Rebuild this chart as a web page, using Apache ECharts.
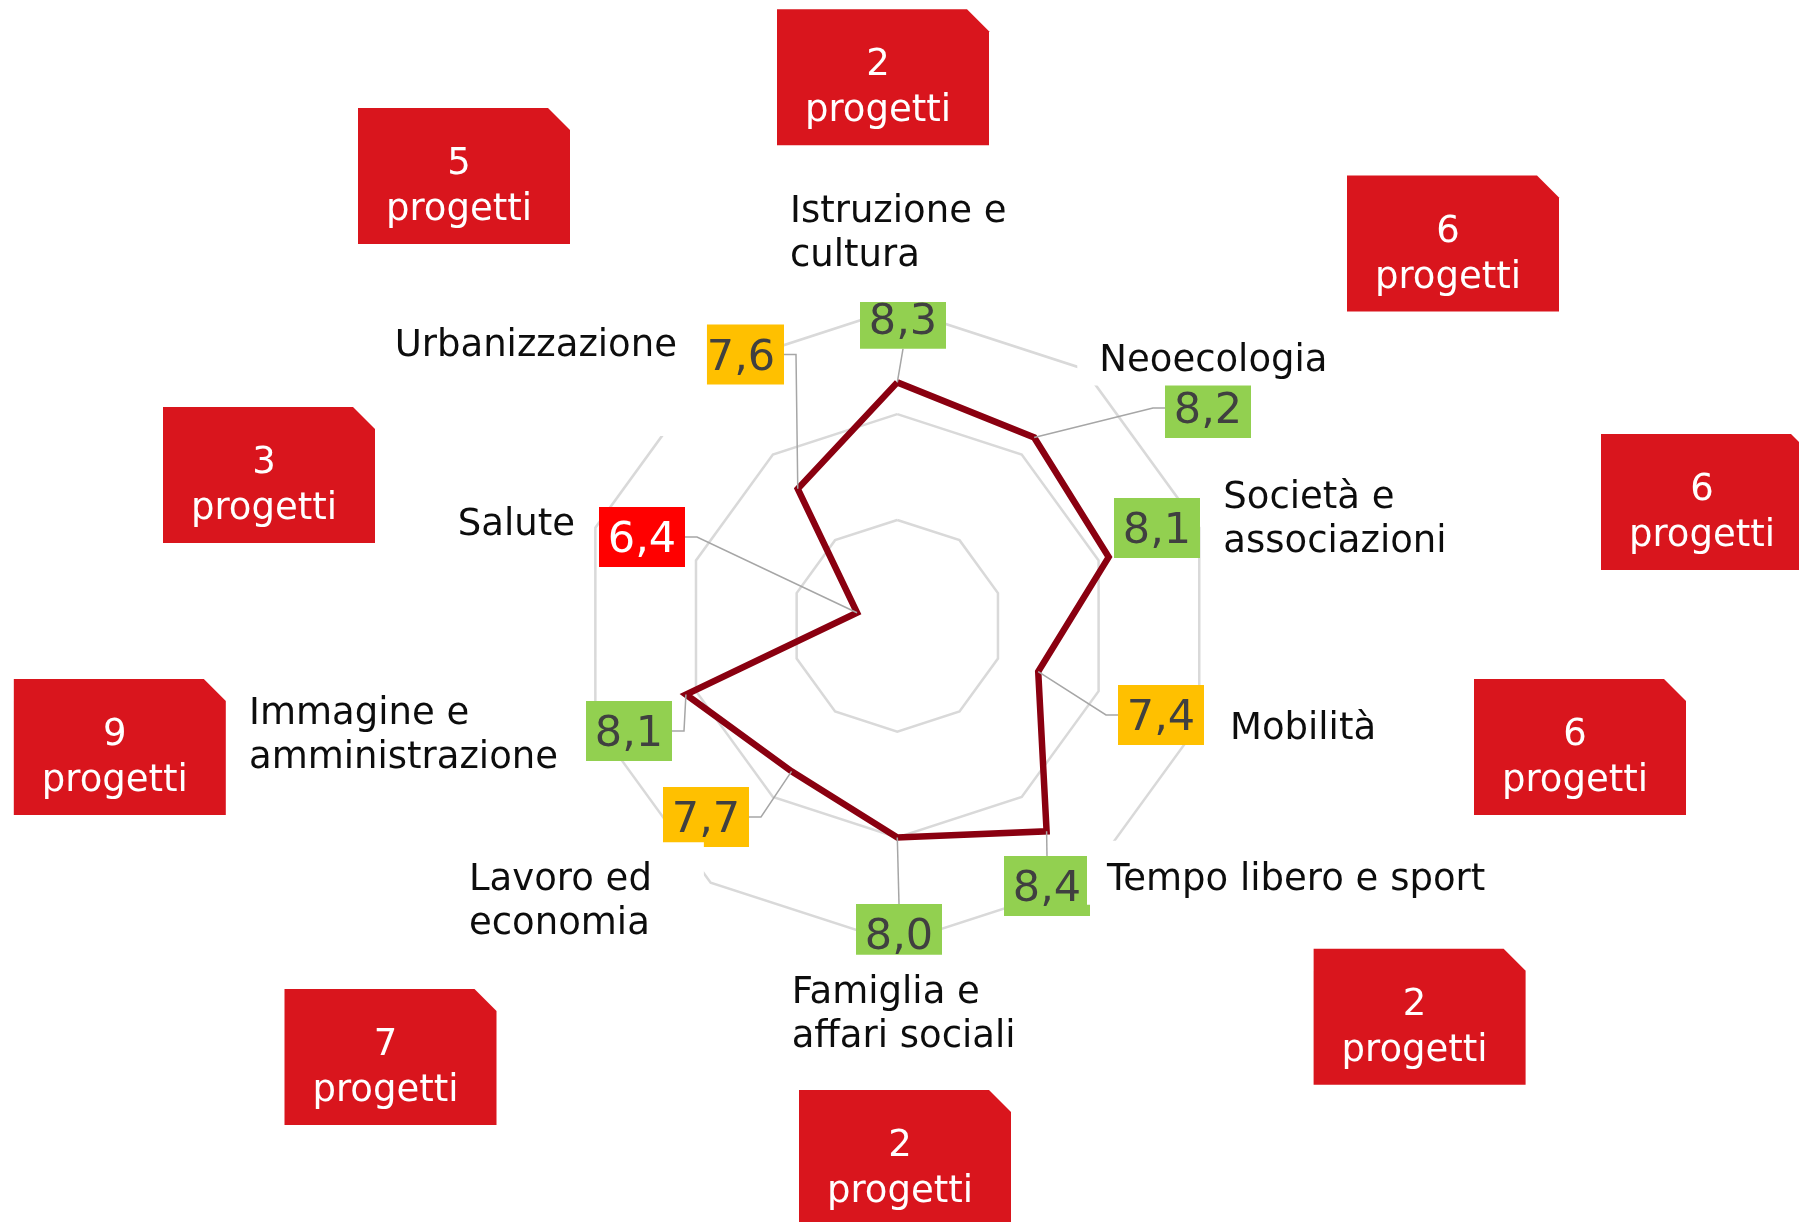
<!DOCTYPE html>
<html><head><meta charset="utf-8">
<script src="https://cdn.jsdelivr.net/npm/echarts@6/dist/echarts.min.js"></script>
<style>html,body{margin:0;padding:0;background:#fff}#c{width:1799px;height:1222px}</style>
</head><body><div id="c"></div>
<script>
// ---- data (clockwise from top) ----
const categories = ['Istruzione e\ncultura', 'Neoecologia', 'Società e\nassociazioni', 'Mobilità',
  'Tempo libero e sport', 'Famiglia e\naffari sociali', 'Lavoro ed\neconomia',
  'Immagine e\namministrazione', 'Salute', 'Urbanizzazione'];
const scores = [8.3, 8.2, 8.1, 7.4, 8.4, 8.0, 7.7, 8.1, 6.4, 7.6];
const projects = [2, 6, 6, 6, 2, 2, 7, 9, 3, 5];
const scaleTicks = [6, 7, 8, 9];
const projectWord = 'progetti';

// ---- layout (annotation placement, px offsets from chart centre) ----
const CENTER = [897.3, 625.8], RADIUS = 317.5;
const valueBoxLayout = [
  [5.7, -307, 'b'], [310.7, -217.8, 'l'], [259.7, -97.8, 'none'], [263.7, 89.2, 'l'],
  [149.7, 260.2, 't'], [1.7, 308.2, 't'], [-191.3, 191.2, 'r'], [-268.3, 105.2, 'r'],
  [-255.3, -88.8, 'r'], [-156.3, -271.3, 'r']
];
// [text left dx, text centre dy, box padding [top, right, bottom, left]]
const nameLayout = [
  [-107.3, -395.8, [8, 12, 28, 8]], [202, -268.3, [6, 10, 6, 22]], [326, -109.3, [6, 10, 6, 10]],
  [332.7, 99.2, [6, 10, 6, 10]], [209.7, 251, [14, 10, 6, 20]], [-105.6, 385.9, [13, 10, 6, 10]],
  [-428.3, 272.5, [12, 52, 6, 8]], [-648.3, 106.9, [6, 10, 6, 10]], [-439.5, -104.8, [6, 10, 6, 10]],
  [-502.6, -283.8, [6, 30, 72, 6]]
];
const badgeLayout = [
  [-14.3, -548.5], [555.7, -382.3], [809.7, -123.8], [682.7, 121.2], [522.3, 391],
  [7.7, 532.2], [-506.8, 431.2], [-777.5, 121.2], [-628.3, -150.8], [-433.3, -449.8]
];

const FONT = '"DejaVu Sans", Verdana, sans-serif';
const NAME_FONT = '37px ' + FONT, NAME_LH = 44;
const n = categories.length;
const vmin = scaleTicks[0], vmax = scaleTicks[scaleTicks.length - 1];
const ccwOrder = categories.map((_, i) => (n - i) % n);
const polarData = categories.map((c, i) => [scores[i], i * 360 / n, i]);

const measureCtx = document.createElement('canvas').getContext('2d');
function textWidth(s, font) {
  measureCtx.font = font;
  return Math.max.apply(null, s.split('\n').map(l => measureCtx.measureText(l).width));
}
function boxColor(v) { return v >= 8 ? '#92d050' : (v >= 7 ? '#ffc000' : '#ff0000'); }

function renderValues(params, api) {
  const i = params.dataIndex;
  const p = api.coord([api.value(0), api.value(1)]);
  const c = api.coord([vmin, 0]);
  const [dx, dy, anchor] = valueBoxLayout[i];
  const w = 86, h = 60;
  const bx = c[0] + dx, by = c[1] + dy;
  const children = [];
  let pts = null;
  if (anchor === 'l') pts = [p, [bx - w / 2 - 12, by], [bx - w / 2, by]];
  else if (anchor === 'r') pts = [p, [bx + w / 2 + 12, by], [bx + w / 2, by]];
  else if (anchor === 't') pts = [p, [bx, by - h / 2]];
  else if (anchor === 'b') pts = [p, [bx, by + h / 2]];
  if (pts) children.push({ type: 'polyline', shape: { points: pts }, style: { stroke: '#a6a6a6', lineWidth: 1.5, fill: null } });
  const v = scores[i];
  children.push({ type: 'rect', shape: { x: bx - w / 2, y: by - h / 2, width: w, height: h }, style: { fill: boxColor(v) } });
  children.push({ type: 'text', x: bx, y: by + 4, style: {
    text: v.toFixed(1).replace('.', ','), fill: v < 7 ? '#ffffff' : '#404040',
    font: '43px ' + FONT, align: 'center', verticalAlign: 'middle' } });
  return { type: 'group', children };
}

function renderNames(params, api) {
  const i = params.dataIndex;
  const c = api.coord([vmin, 0]);
  const [dx, dy, pad] = nameLayout[i];
  const text = categories[i];
  const H = text.split('\n').length * NAME_LH;
  const W = textWidth(text, NAME_FONT);
  const left = c[0] + dx, cy = c[1] + dy;
  return { type: 'group', children: [
    { type: 'rect', shape: { x: left - pad[3], y: cy - H / 2 - pad[0], width: W + pad[1] + pad[3], height: H + pad[0] + pad[2] },
      style: { fill: '#ffffff' } },
    { type: 'text', x: left, y: cy + 4, style: {
      text: text, fill: '#0d0d0d', font: NAME_FONT, lineHeight: NAME_LH, align: 'left', verticalAlign: 'middle' } }
  ] };
}

function renderBadges(params, api) {
  const i = params.dataIndex;
  const c = api.coord([vmin, 0]);
  const [dx, dy] = badgeLayout[i];
  const w = 212, h = 136, k = 22;
  const x = c[0] + dx - w / 2, y = c[1] + dy - h / 2;
  return { type: 'group', children: [
    { type: 'polygon', shape: { points: [[x, y], [x + w - k, y], [x + w, y + k], [x + w, y + h], [x, y + h]] }, style: { fill: '#d9151d' } },
    { type: 'text', x: c[0] + dx - 5, y: c[1] + dy + 11.5, style: {
      text: projects[i] + '\n' + projectWord, fill: '#ffffff', font: '37px ' + FONT, lineHeight: 46,
      align: 'center', verticalAlign: 'middle' } }
  ] };
}

const chart = echarts.init(document.getElementById('c'), null, { renderer: 'canvas' });
chart.setOption({
  animation: false,
  backgroundColor: '#ffffff',
  radar: {
    center: CENTER, radius: RADIUS, startAngle: 90, splitNumber: scaleTicks.length - 1, shape: 'polygon',
    indicator: ccwOrder.map(i => ({ name: categories[i], min: vmin, max: vmax })),
    axisName: { show: false },
    axisLine: { show: false }, axisTick: { show: false }, axisLabel: { show: false },
    splitLine: { lineStyle: { color: '#d9d9d9', width: 2.5 } },
    splitArea: { show: false }
  },
  polar: { center: CENTER, radius: RADIUS },
  angleAxis: { type: 'value', min: 0, max: 360, startAngle: 90, clockwise: true, show: false },
  radiusAxis: { type: 'value', min: vmin, max: vmax, show: false },
  series: [
    { type: 'radar', z: 2, symbol: 'none',
      lineStyle: { color: '#8a0010', width: 6.5, join: 'miter' },
      data: [{ value: ccwOrder.map(i => scores[i]) }] },
    { type: 'custom', coordinateSystem: 'polar', z: 3, data: polarData, renderItem: renderValues, silent: true },
    { type: 'custom', coordinateSystem: 'polar', z: 4, data: polarData, renderItem: renderNames, silent: true },
    { type: 'custom', coordinateSystem: 'polar', z: 5, data: polarData, renderItem: renderBadges, silent: true }
  ]
});
</script>
</body></html>
